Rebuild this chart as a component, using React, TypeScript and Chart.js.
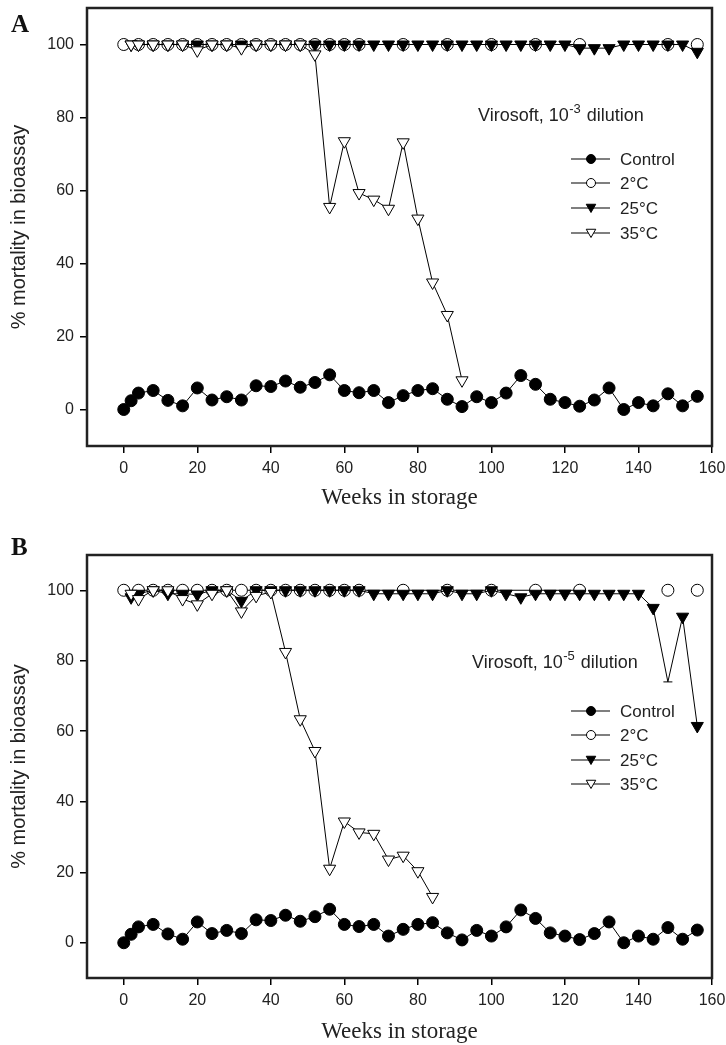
import React, { useEffect, useRef } from "react";
import { Chart, registerables } from "chart.js";

Chart.register(...registerables);

// ---------------- DATA ----------------
const weeksAll = [0, 2, 4, 8, 12, 16, 20, 24, 28, 32, 36, 40, 44, 48, 52, 56, 60, 64, 68, 72, 76, 80, 84, 88, 92, 96, 100, 104, 108, 112, 116, 120, 124, 128, 132, 136, 140, 144, 148, 152, 156];
const weeksFrom2 = [2, 4, 8, 12, 16, 20, 24, 28, 32, 36, 40, 44, 48, 52, 56, 60, 64, 68, 72, 76, 80, 84, 88, 92, 96, 100, 104, 108, 112, 116, 120, 124, 128, 132, 136, 140, 144, 148, 152, 156];
const weeks2C = [0, 4, 8, 12, 16, 20, 24, 28, 32, 36, 40, 44, 48, 52, 56, 60, 64, 76, 88, 100, 112, 124, 136, 148, 152, 156];
const weeks35A = [2, 4, 8, 12, 16, 20, 24, 28, 32, 36, 40, 44, 48, 52, 56, 60, 64, 68, 72, 76, 80, 84, 88, 92];
const weeks35B = [2, 4, 8, 12, 16, 20, 24, 28, 32, 36, 40, 44, 48, 52, 56, 60, 64, 68, 72, 76, 80, 84];

const controlA = [0, 2.4, 4.5, 5.2, 2.5, 1.0, 5.9, 2.6, 3.5, 2.6, 6.5, 6.3, 7.8, 6.1, 7.4, 9.5, 5.2, 4.6, 5.2, 1.9, 3.8, 5.2, 5.7, 2.8, 0.8, 3.5, 1.9, 4.5, 9.3, 6.9, 2.8, 1.9, 0.9, 2.6, 5.9, 0, 1.9, 1.0, 4.3, 1.0, 3.6];
const twoDegA = [100, 100, 100, 100, 100, 100, 100, 100, 100, 100, 100, 100, 100, 100, 100, 100, 100, 100, 100, 100, 100, 100, null, 100, null, 100];
const twentyFiveA = [100, 100, 100, 100, 100, 100, 100, 100, 100, 100, 100, 100, 100, 100, 100, 100, 100, 100, 100, 100, 100, 100, 100, 100, 100, 100, 100, 100, 100, 100, 100, 99, 99, 99, 100, 100, 100, 100, 100, 98];
const thirtyFiveA = [100, 100, 100, 100, 100, 98.4, 100, 100, 99, 100, 100, 100, 100, 97.3, 55.5, 73.5, 59.3, 57.5, 55, 73.2, 52.3, 34.8, 25.9, 8];

const controlB = [0, 2.4, 4.5, 5.2, 2.5, 1.0, 5.9, 2.6, 3.5, 2.6, 6.5, 6.3, 7.8, 6.1, 7.4, 9.5, 5.2, 4.6, 5.2, 1.9, 3.8, 5.2, 5.7, 2.8, 0.8, 3.5, 1.9, 4.5, 9.3, 6.9, 2.8, 1.9, 0.9, 2.6, 5.9, 0, 1.9, 1.0, 4.3, 1.0, 3.6];
const twoDegB = [100, 100, 100, 100, 100, 100, 100, 100, 100, 100, 100, 100, 100, 100, 100, 100, 100, 100, 100, 100, 100, 100, null, 100, null, 100];
const twentyFiveB = [98, 99, 100, 99, 99, 98.8, 100, 100, 97, 100, 100, 100, 100, 100, 100, 100, 100, 99, 99, 99, 99, 99, 100, 99, 99, 100, 99, 98, 99, 99, 99, 99, 99, 99, 99, 99, 95, 74, 92.5, 61.5];
const thirtyFiveB = [99, 97.5, 100, 100, 97.5, 96, 99, 100, 94, 98.4, 99.5, 82.5, 63.4, 54.4, 21, 34.4, 31.3, 30.9, 23.6, 24.7, 20.3, 13];

const seriesLabels = ["Control", "2°C", "25°C", "35°C"];
const xTickValues = [0, 20, 40, 60, 80, 100, 120, 140, 160];
const yTickValues = [0, 20, 40, 60, 80, 100];
const xAxisTitle = "Weeks in storage";
const yAxisTitle = "% mortality in bioassay";

// ---------------- STYLE / LAYOUT ----------------
const SANS = '"Liberation Sans", Arial, Helvetica, sans-serif';
const SERIF = '"Liberation Serif", "Times New Roman", serif';
const W = 726;

type PanelSpec = {
  letter: string;
  exponent: string;
  canvasHeight: number;
  boxTop: number;
  boxBottom: number;
  letterBaseline: number;
  annX: number;
  annBaseline: number;
  legendRows: number[];
  xTitleY: number;
  control: (number | null)[];
  two: (number | null)[];
  twentyFive: (number | null)[];
  thirtyFive: (number | null)[];
  weeks35: number[];
  lineMarkerWeek?: number;
};

const panelA: PanelSpec = {
  letter: "A",
  exponent: "-3",
  canvasHeight: 510,
  boxTop: 8,
  boxBottom: 446,
  letterBaseline: 32,
  annX: 478,
  annBaseline: 121,
  legendRows: [159, 183, 208, 233],
  xTitleY: 498,
  control: controlA,
  two: twoDegA,
  twentyFive: twentyFiveA,
  thirtyFive: thirtyFiveA,
  weeks35: weeks35A,
};

const panelB: PanelSpec = {
  letter: "B",
  exponent: "-5",
  canvasHeight: 535,
  boxTop: 45,
  boxBottom: 468,
  letterBaseline: 45,
  annX: 472,
  annBaseline: 158,
  legendRows: [201, 225, 250, 274],
  xTitleY: 522,
  control: controlB,
  two: twoDegB,
  twentyFive: twentyFiveB,
  thirtyFive: thirtyFiveB,
  weeks35: weeks35B,
  lineMarkerWeek: 148,
};

const pts = (xs: number[], ys: (number | null)[]) => xs.map((x, i) => ({ x, y: ys[i] }));

function drawMarker(ctx: CanvasRenderingContext2D, kind: string, filled: boolean, x: number, y: number, r: number) {
  ctx.beginPath();
  if (kind === "circle") {
    ctx.arc(x, y, r, 0, Math.PI * 2);
  } else {
    ctx.moveTo(x - (r * Math.sqrt(3)) / 2, y - r / 2);
    ctx.lineTo(x + (r * Math.sqrt(3)) / 2, y - r / 2);
    ctx.lineTo(x, y + r);
    ctx.closePath();
  }
  ctx.fillStyle = filled ? "#000" : "#fff";
  ctx.fill();
  ctx.lineWidth = 1;
  ctx.strokeStyle = "#000";
  ctx.stroke();
}

const framePlugin = {
  id: "frameDecor",
  afterDraw(chart: any) {
    const spec: PanelSpec = chart.options.plugins.frameDecor.spec;
    const ctx: CanvasRenderingContext2D = chart.ctx;
    const a = chart.chartArea;
    ctx.save();
    // frame
    ctx.lineWidth = 2.5;
    ctx.strokeStyle = "#222";
    ctx.strokeRect(a.left, a.top, a.right - a.left, a.bottom - a.top);

    // panel letter
    ctx.fillStyle = "#111";
    ctx.font = `bold 25px ${SERIF}`;
    ctx.textAlign = "left";
    ctx.textBaseline = "alphabetic";
    ctx.fillText(spec.letter, 11, spec.letterBaseline);

    // annotation with superscript
    ctx.fillStyle = "#222";
    let x = spec.annX;
    ctx.font = `18px ${SANS}`;
    const p1 = "Virosoft, 10";
    ctx.fillText(p1, x, spec.annBaseline);
    x += ctx.measureText(p1).width + 0.5;
    ctx.font = `13px ${SANS}`;
    ctx.fillText(spec.exponent, x, spec.annBaseline - 8);
    x += ctx.measureText(spec.exponent).width + 1;
    ctx.font = `18px ${SANS}`;
    ctx.fillText(" dilution", x, spec.annBaseline);

    // legend
    const kinds = [
      { kind: "circle", filled: true },
      { kind: "circle", filled: false },
      { kind: "tri", filled: true },
      { kind: "tri", filled: false },
    ];
    spec.legendRows.forEach((ry, i) => {
      ctx.beginPath();
      ctx.moveTo(571, ry);
      ctx.lineTo(610, ry);
      ctx.lineWidth = 1.2;
      ctx.strokeStyle = "#000";
      ctx.stroke();
      const k = kinds[i];
      drawMarker(ctx, k.kind, k.filled, 591, k.kind === "tri" ? ry - 1 : ry, k.kind === "tri" ? 5.5 : 4.5);
      ctx.fillStyle = "#222";
      ctx.font = `17px ${SANS}`;
      ctx.textBaseline = "middle";
      ctx.fillText(seriesLabels[i], 620, ry + 1);
    });

    // axis titles
    ctx.fillStyle = "#222";
    ctx.textAlign = "center";
    ctx.textBaseline = "middle";
    ctx.font = `23px ${SERIF}`;
    ctx.fillText(xAxisTitle, (a.left + a.right) / 2, spec.xTitleY);
    ctx.translate(19, (a.top + a.bottom) / 2);
    ctx.rotate(-Math.PI / 2);
    ctx.font = `20px ${SANS}`;
    ctx.fillText(yAxisTitle, 0, 0);
    ctx.restore();
  },
};

function buildConfig(spec: PanelSpec): any {
  const common = { borderColor: "#000", borderWidth: 1, tension: 0, pointBorderColor: "#000", pointBorderWidth: 1, spanGaps: false };
  return {
    type: "line",
    data: {
      datasets: [
        {
          ...common,
          label: seriesLabels[0],
          data: pts(weeksAll, spec.control),
          pointStyle: "circle",
          pointRadius: 6,
          pointBackgroundColor: "#000",
          order: 4,
        },
        {
          ...common,
          label: seriesLabels[1],
          data: pts(weeks2C, spec.two),
          pointStyle: "circle",
          pointRadius: 6,
          pointBackgroundColor: "#fff",
          order: 3,
        },
        {
          ...common,
          label: seriesLabels[2],
          data: pts(weeksFrom2, spec.twentyFive),
          pointStyle: (c: any) => (spec.lineMarkerWeek !== undefined && c.raw && c.raw.x === spec.lineMarkerWeek ? "line" : "triangle"),
          pointRadius: (c: any) => (spec.lineMarkerWeek !== undefined && c.raw && c.raw.x === spec.lineMarkerWeek ? 4.5 : 7),
          pointRotation: 180,
          pointBackgroundColor: "#000",
          order: 2,
        },
        {
          ...common,
          label: seriesLabels[3],
          data: pts(spec.weeks35, spec.thirtyFive),
          pointStyle: "triangle",
          pointRadius: 7,
          pointRotation: 180,
          pointBackgroundColor: "#fff",
          order: 1,
        },
      ],
    },
    options: {
      responsive: false,
      maintainAspectRatio: false,
      animation: false,
      events: [],
      layout: { padding: { left: 0, right: 14, top: spec.boxTop, bottom: 0 } },
      plugins: {
        legend: { display: false },
        tooltip: { enabled: false },
        title: { display: false },
        frameDecor: { spec },
      },
      scales: {
        x: {
          type: "linear",
          min: -10,
          max: 160,
          afterBuildTicks: (s: any) => {
            s.ticks = xTickValues.map((v) => ({ value: v }));
          },
          afterFit: (s: any) => {
            s.height = spec.canvasHeight - spec.boxBottom;
            s.paddingLeft = 0;
            s.paddingRight = 0;
          },
          border: { display: false },
          grid: { drawOnChartArea: false, drawTicks: true, tickLength: 7, color: "#000", lineWidth: 1.5 },
          ticks: { color: "#222", font: { family: SANS, size: 16 }, padding: 6, maxRotation: 0, autoSkip: false },
        },
        y: {
          type: "linear",
          min: -10,
          max: 110,
          afterBuildTicks: (s: any) => {
            s.ticks = yTickValues.map((v) => ({ value: v }));
          },
          afterFit: (s: any) => {
            s.width = 87;
            s.paddingTop = 0;
            s.paddingBottom = 0;
          },
          border: { display: false },
          grid: { drawOnChartArea: false, drawTicks: true, tickLength: 7, color: "#000", lineWidth: 1.5 },
          ticks: { color: "#222", font: { family: SANS, size: 16 }, padding: 6, autoSkip: false },
        },
      },
    },
    plugins: [framePlugin],
  };
}

function PanelChart({ spec, top }: { spec: PanelSpec; top: number }) {
  const ref = useRef<HTMLCanvasElement | null>(null);
  useEffect(() => {
    if (!ref.current) return;
    const chart = new Chart(ref.current, buildConfig(spec));
    return () => chart.destroy();
  }, [spec]);
  return (
    <canvas
      ref={ref}
      width={W}
      height={spec.canvasHeight}
      style={{ position: "absolute", left: 0, top, width: W, height: spec.canvasHeight, display: "block" }}
    />
  );
}

export default function App() {
  return (
    <div style={{ position: "absolute", left: 0, top: 0, width: W, height: 1045, background: "#fff", overflow: "hidden" }}>
      <PanelChart spec={panelA} top={0} />
      <PanelChart spec={panelB} top={panelA.canvasHeight} />
    </div>
  );
}
